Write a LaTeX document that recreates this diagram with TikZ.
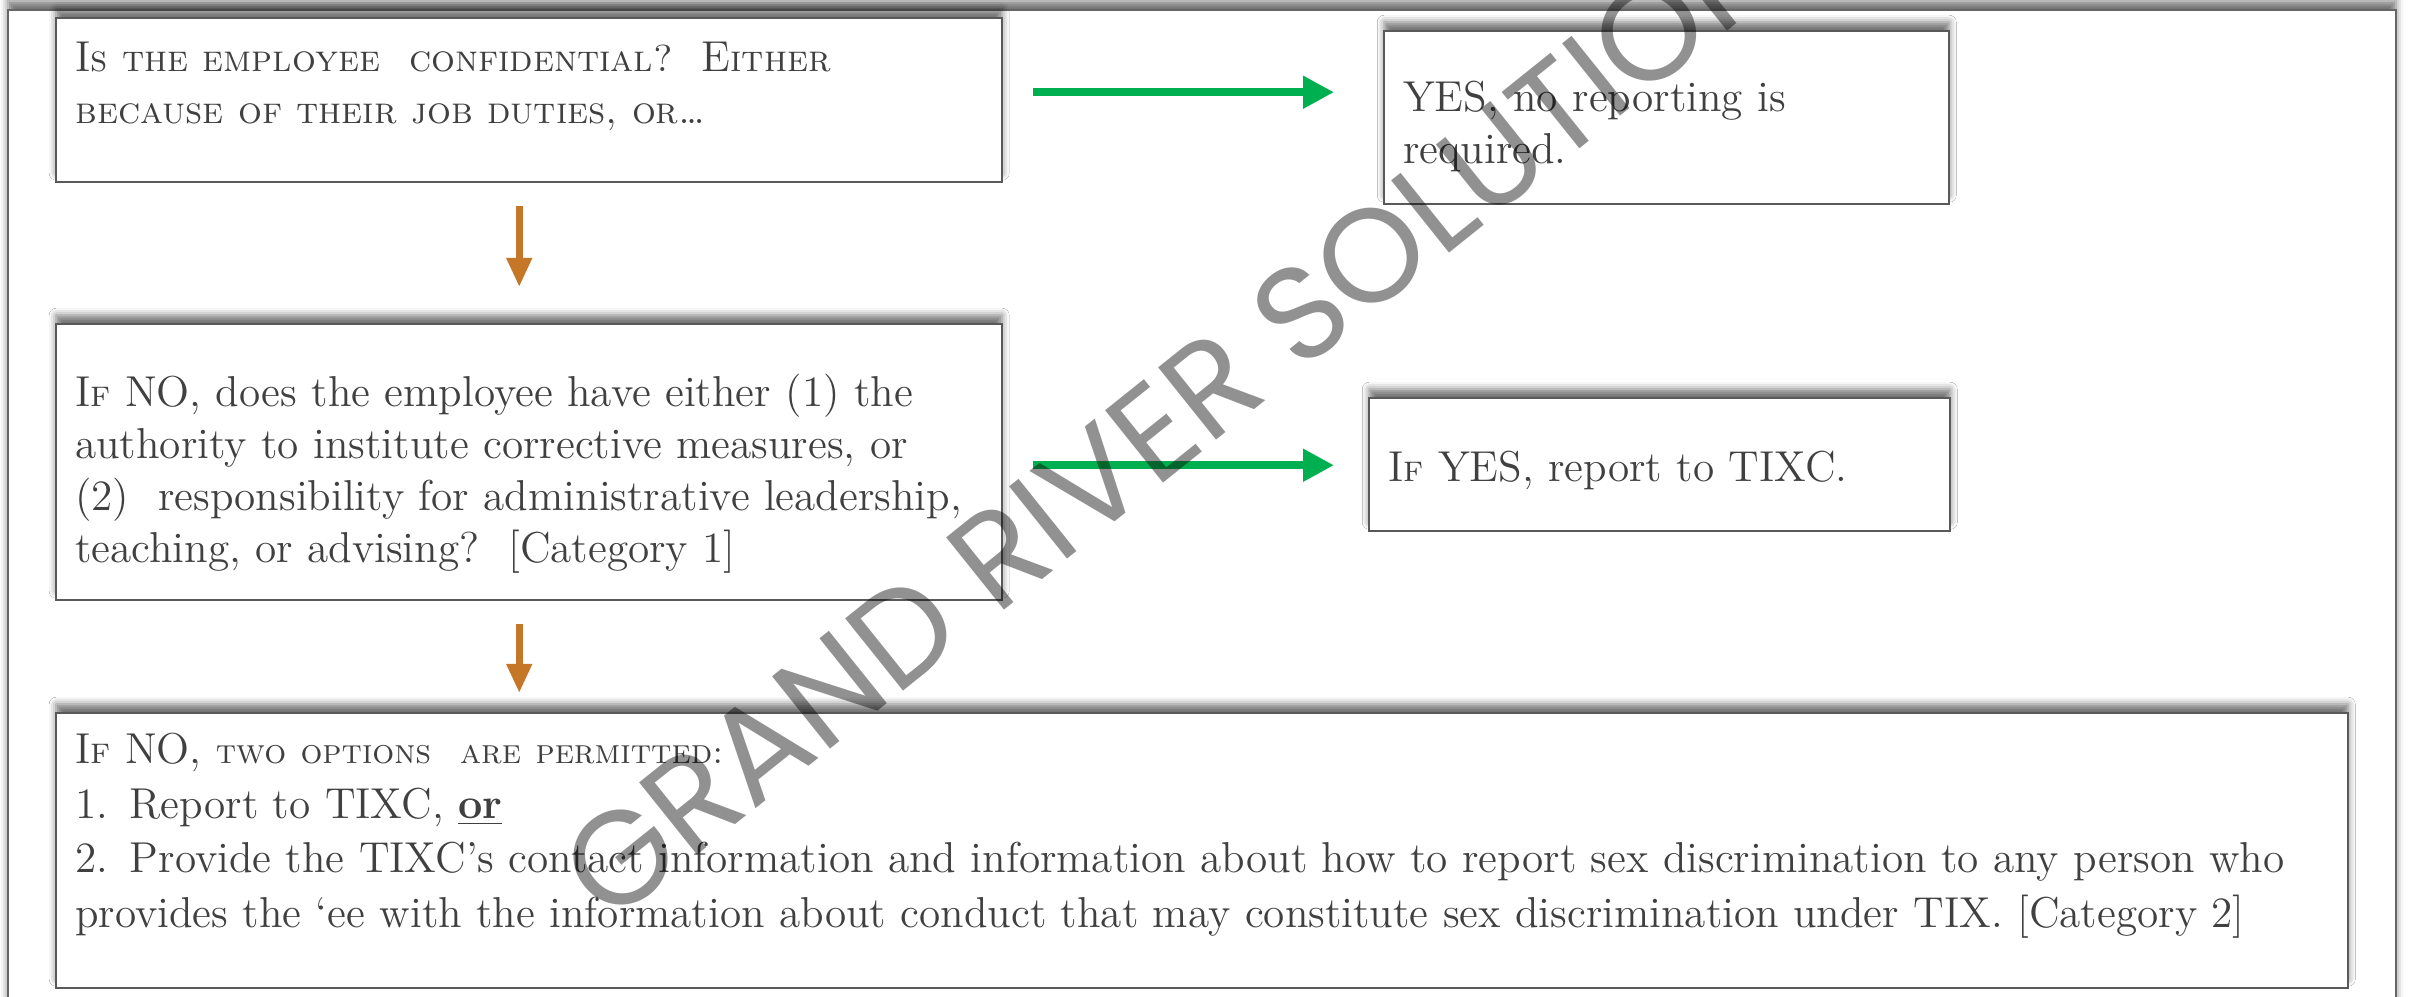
\documentclass[tikz,border=0pt]{standalone}
\usepackage{fontspec}
\usetikzlibrary{arrows.meta,shadows.blur}
\newfontfamily\markfont{Poppins}
\newcommand\smc[1]{{\fontsize{10.7}{14.8}\selectfont\textsc{#1}}}
\newcommand\smcnarrow[1]{{\fontsize{9.8}{14.8}\selectfont\textsc{#1}}}
\definecolor{arrowgreen}{RGB}{0,176,80}
\definecolor{arrowbrown}{RGB}{197,118,38}
\definecolor{boxgray}{RGB}{89,89,89}
\definecolor{inkgray}{RGB}{64,64,64}
\tikzset{
  topshadow/.style={blur shadow={shadow xshift=0pt, shadow yshift=0.09cm, shadow blur radius=0.07cm, shadow opacity=55}},
  box/.style={draw=boxgray, line width=0.7pt, fill=white, anchor=north west, inner xsep=0.19cm, inner ysep=0pt,
    align=left, text=inkgray, font=\fontsize{12.3}{14.8}\selectfont, topshadow},
  goarrow/.style={draw=arrowgreen, line width=0.8mm, -{Triangle[length=3.1mm,width=3.1mm]}},
  downarrow/.style={draw=arrowbrown, line width=0.7mm, -{Triangle[length=2.9mm,width=2.4mm]}},
}
\begin{document}
\begin{tikzpicture}
   \useasboundingbox (0,0) rectangle (24.10,-9.97);
   \draw[draw=gray!80!black, line width=0.6pt, fill=white, topshadow] (0.08,-0.10) rectangle (23.96,-10.40);

   \node[box, text width=9.08cm, text height=0.53cm, text depth=1.11cm] (qconf) at (0.55,-0.17)
      {I\smc{s the employee\ \ confidential?\ \ }E\smc{ither}\\ \smc{because of their job duties, or\dots}};
   \node[box, text width=5.27cm, text height=0.80cm, text depth=0.93cm] (yesbox) at (13.83,-0.30)
      {YES, no reporting is\\ required.};
   \node[box, text width=9.08cm, text height=0.82cm, text depth=1.94cm] (qauth) at (0.55,-3.23)
      {I\smc{f} NO, does the employee have either (1) the\\ authority to institute corrective measures, or\\
       (2)\ \ responsibility for administrative leadership,\\ teaching, or advising?\ \ [Category 1]};
   \node[box, text width=5.43cm, text height=0.83cm, text depth=0.50cm] (yesrep) at (13.68,-3.97)
      {I\smc{f} YES, report to TIXC.};
   \node[box, text width=22.54cm, text height=0.50cm, text depth=2.25cm, font=\fontsize{12.3}{15.6}\selectfont] (options) at (0.55,-7.12)
      {I\smc{f} NO, \smcnarrow{two options\ \ are permitted:}\\ 1. Report to TIXC, \underline{\textbf{or}}\\
       2. Provide the TIXC’s contact information and information about how to report sex discrimination to any person who\\
       provides the ‘ee with the information about conduct that may constitute sex discrimination under TIX. [Category 2]};

   \draw[goarrow, shorten <=0.30cm, shorten >=0.49cm] ([yshift=0.8mm]qconf.east) -- ([yshift=0.8mm]qconf.east -| yesbox.west);
   \draw[goarrow, shorten <=0.30cm, shorten >=0.34cm] ([yshift=-0.3mm]qauth.east) -- ([yshift=-0.3mm]qauth.east -| yesrep.west);
   \draw[downarrow, shorten <=0.23cm, shorten >=0.36cm] ([xshift=-1mm]qconf.south) -- ([xshift=-1mm]qauth.north);
   \draw[downarrow, shorten <=0.23cm, shorten >=0.19cm] ([xshift=-1mm]qauth.south) -- ([xshift=-1mm]qauth.south |- options.north);

   \node[rotate=38.7, text=black, text opacity=0.43, font=\markfont\fontsize{37.8}{37.8}\selectfont] (mark) at (12.02,-3.92)
      {GRAND RIVER SOLUTIONS};
\end{tikzpicture}
\end{document}
